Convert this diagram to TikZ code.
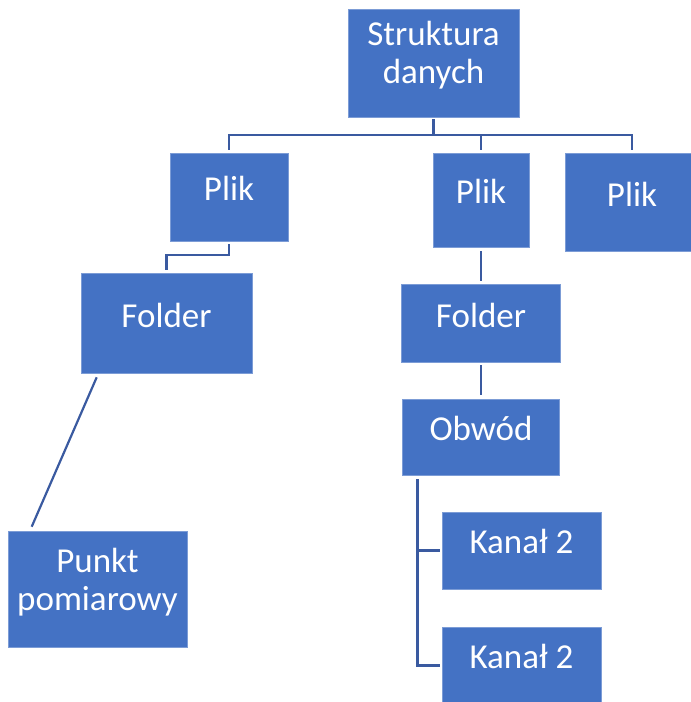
\documentclass[tikz,border=0pt]{standalone}
\usepackage{fontspec}
\setmainfont{Carlito}
\definecolor{boxblue}{HTML}{4472C4}
\definecolor{lineblue}{RGB}{58,90,160}
\tikzset{
  box/.style={draw=boxblue!70!white, line width=0.6pt, fill=boxblue, inner sep=0pt},
  txt/.style={text=white, anchor=base, inner sep=0pt, font=\fontsize{35}{42}\selectfont},
  conn/.style={draw=lineblue, line width=2.6pt}
}
\begin{document}
\begin{tikzpicture}[x=1pt,y=-1pt]
\useasboundingbox (0,0) rectangle (691,702);
\clip (0,0) rectangle (691,702);
% boxes
\node[box, minimum width=171, minimum height=108] (s)  at (433.5,63) {};
\node[box, minimum width=118, minimum height=88]  (p1) at (229,197) {};
\node[box, minimum width=96,  minimum height=94]  (p2) at (481,200) {};
\node[box, minimum width=134, minimum height=98]  (p3) at (632,202) {};
\node[box, minimum width=171, minimum height=100] (f1) at (166.5,323) {};
\node[box, minimum width=159, minimum height=78]  (f2) at (481,323) {};
\node[box, minimum width=157, minimum height=76]  (o)  at (481,437) {};
\node[box, minimum width=179, minimum height=116] (pp) at (97.5,589) {};
\node[box, minimum width=159, minimum height=77]  (k1) at (521.5,550.5) {};
\node[box, minimum width=159, minimum height=77]  (k2) at (521.5,665.5) {};
% texts
\node[txt] (ts1) at (433.5,45) {Struktura};
\node[txt] (ts2) at (433.5,83) {danych};
\node[txt] (tp1) at (229,200) {Plik};
\node[txt] (tp2) at (481,203) {Plik};
\node[txt] (tp3) at (632,206) {Plik};
\node[txt] (tf1) at (166.5,327) {Folder};
\node[txt] (tf2) at (481,327) {Folder};
\node[txt] (to)  at (481,440) {Obwód};
\node[txt] (tpp1) at (97.5,572) {Punkt};
\node[txt] (tpp2) at (97.5,610) {pomiarowy};
\node[txt] (tk1) at (521.5,553) {Kanał 2};
\node[txt] (tk2) at (521.5,668) {Kanał 2};
% connectors
\coordinate (bus) at (0,135);
\draw[conn] ([yshift=-2pt]s.south) -- (s.south |- bus);
\draw[conn] ([yshift=3pt]p1.north) |- (p3.north |- bus) -- ([yshift=3pt]p3.north);
\draw[conn] (p2.north |- bus) -- ([yshift=3pt]p2.north);
\coordinate (elbow) at (0,255);
\draw[conn] ([yshift=-3pt]p1.south) |- (f1.north |- elbow) -- ([yshift=3pt]f1.north);
\draw[conn, line width=2.2pt] ([shift={(16,4)}]f1.south west) -- ([shift={(24,-4)}]pp.north west);
\draw[conn] ([yshift=-4pt]p2.south) -- ([yshift=3pt]f2.north);
\draw[conn] ([yshift=-3pt]f2.south) -- ([yshift=4pt]o.north);
\coordinate (trunk) at ([shift={(15,4)}]o.south west);
\draw[conn] (trunk) |- ([xshift=-2pt]k2.west);
\draw[conn] (trunk |- k1.west) -- ([xshift=-2pt]k1.west);
\end{tikzpicture}
\end{document}
